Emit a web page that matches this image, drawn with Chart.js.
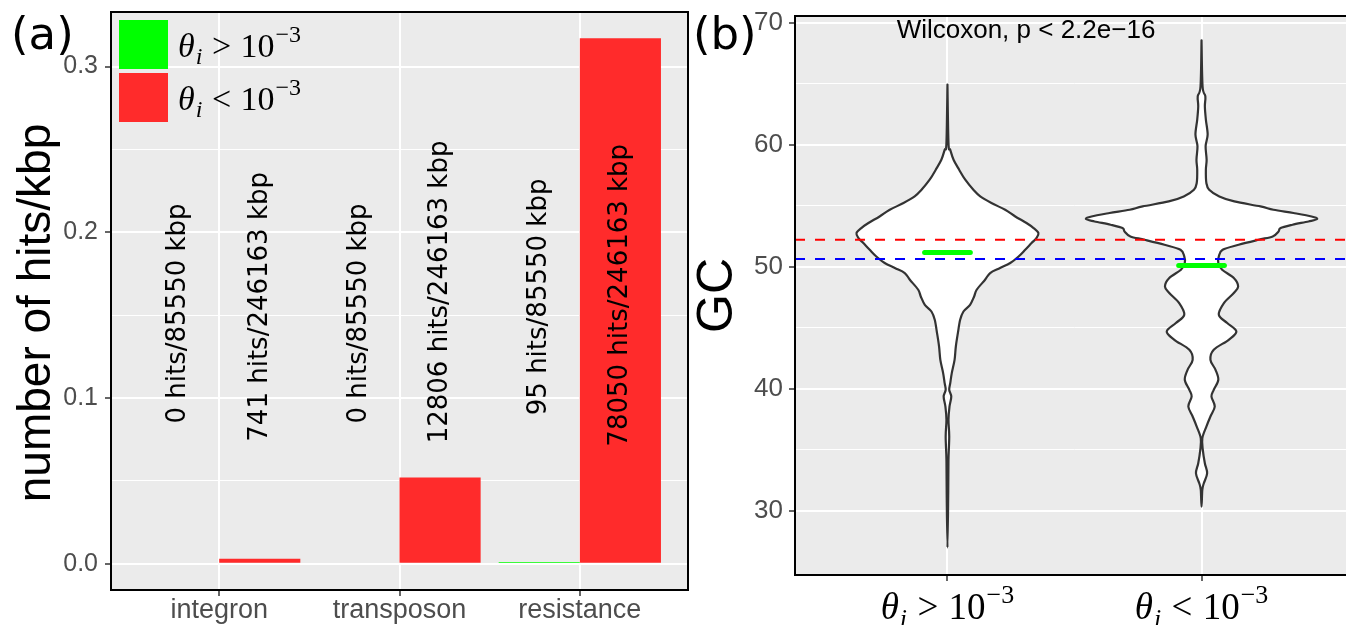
<!DOCTYPE html>
<html>
<head>
<meta charset="utf-8">
<script src="https://cdn.jsdelivr.net/npm/chart.js@4.4.1/dist/chart.umd.min.js"></script>
<style>
  html, body { margin: 0; padding: 0; background: #fff; overflow: hidden; }
  #wrap { position: relative; width: 1346px; height: 625px; overflow: hidden; }
  #hits { position: absolute; left: 0; top: 0; }
  #gc { position: absolute; left: 690px; top: 0; }
</style>
</head>
<body>
<div id="wrap">
  <canvas id="hits" width="690" height="625"></canvas>
  <canvas id="gc" width="670" height="625"></canvas>
</div>
<script>
// ---- panel (a): hits per kbp for each element type ----
const elementTypes = ["integron", "transposon", "resistance"];
const hitsHigh = [0, 0, 95];            // theta_i > 1e-3
const hitsLow = [741, 12806, 78050];    // theta_i < 1e-3
const kbpHigh = 85550;
const kbpLow = 246163;
// y value where each rotated count label is centred
const labelAtHigh = [0.151, 0.151, 0.161];
const labelAtLow = [0.155, 0.164, 0.162];
const hitsMajor = [0, 0.1, 0.2, 0.3];
const hitsMinor = [0.05, 0.15, 0.25];

// ---- panel (b): GC content distributions ----
const gcRefRed = 52.23;
const gcRefBlue = 50.65;
const gcMedian = [51.19, 50.12];
// violin outlines: GC level and half width (in group units)
const vioHighGC = [64.95, 60.16, 59.6, 58.79, 57.97, 57.15, 56.33, 55.78, 55.24, 54.69, 54.14, 53.6, 53.19, 52.78,
  52.37, 51.96, 51.41, 50.86, 50.32, 49.91, 49.5, 48.95, 48.13, 47.58, 46.9, 46.35, 45.67, 44.58, 43.48, 42.39,
  41.3, 40.48, 39.93, 39.38, 38.56, 37.47, 36.1, 34.18, 31.45, 27.0];
const vioHighHalf = [0, 0.004, 0.011, 0.024, 0.046, 0.070, 0.102, 0.129, 0.173, 0.227, 0.267, 0.311, 0.339, 0.358,
  0.350, 0.331, 0.306, 0.280, 0.247, 0.207, 0.168, 0.148, 0.115, 0.105, 0.089, 0.063, 0.050, 0.041, 0.033, 0.028,
  0.017, 0.011, 0.007, 0.015, 0.008, 0.004, 0.007, 0.004, 0.003, 0];
const vioLowGC = [68.58, 64.81, 63.99, 63.17, 62.08, 60.85, 59.89, 58.79, 57.97, 56.88, 56.33, 55.78, 55.37, 54.96,
  54.69, 54.42, 54.14, 53.93, 53.73, 53.46, 53.19, 52.91, 52.5, 52.23, 51.82, 51.41, 50.86, 50.32, 49.77, 49.09,
  48.4, 47.86, 47.04, 46.08, 45.4, 44.71, 44.03, 43.21, 42.39, 41.57, 40.75, 39.93, 39.38, 38.56, 37.74, 36.92,
  35.96, 35.0, 33.91, 33.09, 32.27, 31.72, 30.35];
const vioLowHalf = [0, 0.004, 0.015, 0.013, 0.017, 0.024, 0.016, 0.020, 0.017, 0.019, 0.030, 0.070, 0.129, 0.232,
  0.283, 0.362, 0.433, 0.455, 0.421, 0.358, 0.311, 0.303, 0.280, 0.224, 0.146, 0.083, 0.068, 0.066, 0.081, 0.127,
  0.144, 0.127, 0.088, 0.068, 0.101, 0.137, 0.107, 0.048, 0.035, 0.055, 0.066, 0.048, 0.039, 0.052, 0.035, 0.019,
  0.003, 0.005, 0.013, 0.022, 0.009, 0.003, 0];
const gcMajor = [30, 40, 50, 60, 70];
const gcMinor = [35, 45, 55, 65];

const GREEN = "#00ff00";
const RED = "#ff2b2b";
const PANEL_BG = "#ebebeb";
const SANS = "'Liberation Sans', Arial, sans-serif";
const SERIF = "'Liberation Serif', 'DejaVu Serif', serif";

const hitsHighRate = hitsHigh.map(h => h / kbpHigh);
const hitsLowRate = hitsLow.map(h => h / kbpLow);
const hitsMax = Math.max(...hitsHighRate, ...hitsLowRate);

// theta_i <rel> 10^-3 written out as little text runs
function drawTheta(ctx, x, y, rel, size, align) {
  const runs = [
    { t: "θ", font: `italic ${size}px ${SERIF}`, dy: 0, gap: 0 },
    { t: "i", font: `italic ${Math.round(size * 0.7)}px ${SERIF}`, dy: size * 0.22, gap: 1 },
    { t: rel, font: `${size}px ${SERIF}`, dy: 0, gap: size * 0.28 },
    { t: "10", font: `${size}px ${SERIF}`, dy: 0, gap: size * 0.28 },
    { t: "−3", font: `${Math.round(size * 0.7)}px ${SERIF}`, dy: -size * 0.42, gap: 1 },
  ];
  let total = 0;
  runs.forEach(r => { ctx.font = r.font; r.w = ctx.measureText(r.t).width; total += r.gap + r.w; });
  let cx = align === "center" ? x - total / 2 : x;
  ctx.save();
  ctx.fillStyle = "#000";
  ctx.textAlign = "left";
  ctx.textBaseline = "alphabetic";
  runs.forEach(r => {
    cx += r.gap;
    ctx.font = r.font;
    ctx.fillText(r.t, cx, y + r.dy);
    cx += r.w;
  });
  ctx.restore();
}

function fillPanel(chart) {
  const { ctx, chartArea: a } = chart;
  ctx.save();
  ctx.fillStyle = PANEL_BG;
  ctx.fillRect(a.left, a.top, a.right - a.left, a.bottom - a.top);
  ctx.restore();
}

function strokePanel(chart) {
  const { ctx, chartArea: a } = chart;
  ctx.save();
  ctx.strokeStyle = "#000";
  ctx.lineWidth = 2;
  ctx.strokeRect(a.left, a.top, a.right - a.left, a.bottom - a.top);
  ctx.restore();
}

function gridStyle(major) {
  return {
    offset: false,
    color: "#ffffff",
    lineWidth: c => (c.tick && major.includes(c.tick.value) ? 2 : 1),
    tickColor: c => (c.tick && major.includes(c.tick.value) ? "#333333" : "rgba(0,0,0,0)"),
    tickLength: 6,
    tickWidth: 1.5,
  };
}

// fixed axis boxes so the panels land where they should
const fixWidth = w => s => { s.width = w; s.paddingTop = s.paddingBottom = 0; };
const fixHeight = h => s => { s.height = h; s.paddingLeft = s.paddingRight = 0; };
const setTicks = vals => s => { s.ticks = vals.slice().sort((a, b) => a - b).map(v => ({ value: v })); };

const hitsPlugin = {
  id: "hitsPanel",
  beforeDraw: fillPanel,
  afterDatasetsDraw(chart) {
    const { ctx, scales: { y } } = chart;
    const meta0 = chart.getDatasetMeta(0), meta1 = chart.getDatasetMeta(1);
    ctx.save();
    ctx.fillStyle = "#000";
    ctx.font = "26px 'DejaVu Sans', sans-serif";
    ctx.textAlign = "center";
    ctx.textBaseline = "middle";
    elementTypes.forEach((t, i) => {
      [[meta0, hitsHigh[i], kbpHigh, labelAtHigh[i]], [meta1, hitsLow[i], kbpLow, labelAtLow[i]]].forEach(([m, h, k, at]) => {
        ctx.save();
        ctx.translate(m.data[i].x, y.getPixelForValue(at));
        ctx.rotate(-Math.PI / 2);
        ctx.fillText(`${h} hits/${k} kbp`, 0, 0);
        ctx.restore();
      });
    });
    ctx.restore();
  },
  afterDraw(chart) {
    strokePanel(chart);
    const { ctx, chartArea: a } = chart;
    // legend keys inside the panel
    const key = 49, kx = a.left + 8;
    [[GREEN, ">"], [RED, "<"]].forEach(([col, rel], i) => {
      const ky = a.top + 8 + i * (key + 4);
      ctx.fillStyle = col;
      ctx.fillRect(kx, ky, key, key);
      drawTheta(ctx, kx + key + 10, ky + key / 2 + 12, rel, 34, "left");
    });
    ctx.save();
    ctx.fillStyle = "#000";
    // y axis title, sitting a little below the panel centre
    ctx.font = `46px ${SANS}`;
    ctx.textAlign = "center";
    ctx.textBaseline = "middle";
    ctx.translate(37, (a.top + a.bottom) / 2 + 12);
    ctx.rotate(-Math.PI / 2);
    ctx.fillText("number of hits/kbp", 0, 0);
    ctx.restore();
    ctx.save();
    ctx.fillStyle = "#000";
    ctx.font = "45px 'DejaVu Sans', sans-serif";
    ctx.textBaseline = "alphabetic";
    ctx.fillText("(a)", 11, 49);
    ctx.restore();
  },
};

new Chart(document.getElementById("hits"), {
  type: "bar",
  data: {
    datasets: [
      { data: hitsHighRate.map((v, i) => ({ x: i + 1, y: v })), backgroundColor: GREEN },
      { data: hitsLowRate.map((v, i) => ({ x: i + 1, y: v })), backgroundColor: RED },
    ],
  },
  options: {
    responsive: false,
    animation: false,
    devicePixelRatio: 1,
    categoryPercentage: 0.9,
    barPercentage: 1,
    layout: { padding: { top: 12, right: 2, left: 0, bottom: 0 } },
    plugins: { legend: { display: false }, tooltip: { enabled: false } },
    scales: {
      x: {
        type: "linear",
        offset: false,
        min: 0.4,
        max: 3.6,
        afterBuildTicks: setTicks([1, 2, 3]),
        afterFit: fixHeight(35),
        border: { display: false },
        grid: gridStyle([1, 2, 3]),
        ticks: {
          callback: v => elementTypes[v - 1],
          color: "#4d4d4d",
          font: { family: SANS, size: 27, lineHeight: 1 },
          padding: 1,
          maxRotation: 0,
          autoSkip: false,
        },
      },
      y: {
        min: -0.05 * hitsMax,
        max: 1.05 * hitsMax,
        afterBuildTicks: setTicks(hitsMajor.concat(hitsMinor)),
        afterFit: fixWidth(111),
        border: { display: false },
        grid: gridStyle(hitsMajor),
        ticks: {
          callback: v => (hitsMajor.includes(v) ? v.toFixed(1) : ""),
          color: "#4d4d4d",
          font: { family: SANS, size: 25, lineHeight: 1 },
          padding: 7,
          autoSkip: false,
        },
      },
    },
  },
  plugins: [hitsPlugin],
});

// ---- panel (b) ----
function violinPath(ctx, xs, ys, centre, gcs, half) {
  const right = gcs.map((g, i) => ({ x: xs.getPixelForValue(centre + half[i]), y: ys.getPixelForValue(g) }));
  const left = gcs.map((g, i) => ({ x: xs.getPixelForValue(centre - half[i]), y: ys.getPixelForValue(g) })).reverse();
  const pts = right.concat(left.slice(1));
  ctx.beginPath();
  ctx.moveTo(pts[0].x, pts[0].y);
  for (let i = 0; i < pts.length - 1; i++) {
    const p0 = pts[Math.max(i - 1, 0)], p1 = pts[i], p2 = pts[i + 1], p3 = pts[Math.min(i + 2, pts.length - 1)];
    ctx.bezierCurveTo(
      p1.x + (p2.x - p0.x) / 6, p1.y + (p2.y - p0.y) / 6,
      p2.x - (p3.x - p1.x) / 6, p2.y - (p3.y - p1.y) / 6,
      p2.x, p2.y);
  }
  ctx.closePath();
}

const gcPlugin = {
  id: "gcPanel",
  beforeDraw: fillPanel,
  beforeDatasetsDraw(chart) {
    const { ctx, scales: { x, y } } = chart;
    ctx.save();
    ctx.fillStyle = "#ffffff";
    ctx.strokeStyle = "#333333";
    ctx.lineWidth = 2.2;
    ctx.lineJoin = "round";
    [[1, vioHighGC, vioHighHalf], [2, vioLowGC, vioLowHalf]].forEach(([c, g, h]) => {
      violinPath(ctx, x, y, c, g, h);
      ctx.fill();
      ctx.stroke();
    });
    ctx.fillStyle = "#000";
    ctx.font = `26px ${SANS}`;
    ctx.textAlign = "left";
    ctx.textBaseline = "alphabetic";
    ctx.fillText("Wilcoxon, p < 2.2e−16", x.getPixelForValue(0.8), y.getPixelForValue(68.76));
    ctx.restore();
  },
  afterDraw(chart) {
    strokePanel(chart);
    const { ctx, scales: { x } } = chart;
    drawTheta(ctx, x.getPixelForValue(1), 619, ">", 37, "center");
    drawTheta(ctx, x.getPixelForValue(2), 619, "<", 37, "center");
    ctx.save();
    ctx.fillStyle = "#000";
    ctx.font = "45px 'DejaVu Sans', sans-serif";
    ctx.fillText("(b)", 3, 49);
    ctx.restore();
  },
};

const flat = (v, a, b) => [{ x: a, y: v }, { x: b, y: v }];

new Chart(document.getElementById("gc"), {
  type: "scatter",
  data: {
    datasets: [
      { data: flat(gcRefRed, 0.4, 2.6), borderColor: "#ff0000", borderWidth: 2, borderDash: [10, 10] },
      { data: flat(gcRefBlue, 0.4, 2.6), borderColor: "#0000ff", borderWidth: 2, borderDash: [10, 10] },
      { data: flat(gcMedian[0], 0.91, 1.09), borderColor: GREEN, borderWidth: 5, borderCapStyle: "round" },
      { data: flat(gcMedian[1], 1.91, 2.09), borderColor: GREEN, borderWidth: 5, borderCapStyle: "round" },
    ].map(d => Object.assign(d, { showLine: true, pointRadius: 0, fill: false })),
  },
  options: {
    responsive: false,
    animation: false,
    devicePixelRatio: 1,
    layout: { padding: { top: 16, right: 6, left: 0, bottom: 0 } },
    plugins: { legend: { display: false }, tooltip: { enabled: false } },
    scales: {
      x: {
        type: "linear",
        min: 0.4,
        max: 2.6,
        afterBuildTicks: setTicks([1, 2]),
        afterFit: fixHeight(50),
        border: { display: false },
        grid: gridStyle([1, 2]),
        ticks: { display: false },
      },
      y: {
        min: 24.75,
        max: 70.57,
        afterBuildTicks: setTicks(gcMajor.concat(gcMinor)),
        afterFit: fixWidth(105),
        border: { display: false },
        grid: gridStyle(gcMajor),
        ticks: {
          callback: v => (gcMajor.includes(v) ? String(v) : ""),
          color: "#4d4d4d",
          font: { family: SANS, size: 26, lineHeight: 1 },
          padding: 6,
          autoSkip: false,
        },
        title: {
          display: true,
          text: "GC",
          color: "#000",
          font: { family: SANS, size: 50, lineHeight: 1 },
          padding: { top: 3, bottom: 0 },
        },
      },
    },
  },
  plugins: [gcPlugin],
});
</script>
</body>
</html>
